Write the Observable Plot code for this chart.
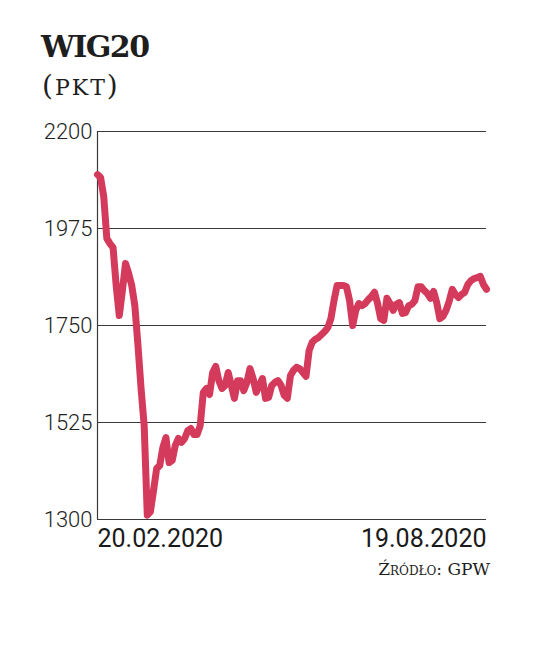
<!DOCTYPE html>
<html>
<head>
<meta charset="utf-8">
<script src="https://cdn.jsdelivr.net/npm/d3@7"></script>
<script src="https://cdn.jsdelivr.net/npm/@observablehq/plot@0.6"></script>
<style>
  html, body { margin: 0; padding: 0; background: #fff; width: 536px; height: 657px; overflow: hidden; }
  #title { position: absolute; left: 41px; top: 32px; font-family: "DejaVu Serif"; font-weight: bold; font-size: 30px; line-height: 30px; color: #1e1e1e; letter-spacing: -1.5px; }
  #subtitle { position: absolute; left: 42px; top: 72px; font-family: "DejaVu Serif"; font-size: 28px; line-height: 27px; color: #1e1e1e; }
  #subtitle .sc { font-size: 22px; letter-spacing: 2px; margin-left: 2px; }
  #chart { position: absolute; left: 0; top: 115px; }
  #caption { position: absolute; right: 46px; top: 561px; font-family: "DejaVu Serif"; font-size: 17px; line-height: 16px; font-variant: small-caps; color: #1e1e1e; }
</style>
</head>
<body>
<div id="title">WIG20</div>
<div id="subtitle">(<span class="sc">PKT</span>)</div>
<div id="chart"></div>
<div id="caption">Źródło: GPW</div>
<script>
// WIG20 daily closing values, 20.02.2020 – 19.08.2020
const values = [
  2100, 2093, 2049, 1952, 1940, 1931, 1843, 1773, 1831, 1894,
  1871, 1843, 1796, 1704, 1604, 1518, 1310, 1318, 1367, 1418,
  1425, 1467, 1490, 1432, 1437, 1472, 1488, 1479, 1488, 1506,
  1511, 1497, 1497, 1518, 1595, 1604, 1590, 1641, 1655, 1622,
  1604, 1611, 1641, 1611, 1581, 1622, 1622, 1599, 1618, 1650,
  1627, 1595, 1611, 1627, 1581, 1583, 1611, 1618, 1622, 1611,
  1588, 1581, 1634, 1646, 1653, 1650, 1641, 1632, 1692, 1711,
  1718, 1722, 1729, 1736, 1745, 1766, 1808, 1843, 1843, 1843,
  1840, 1808, 1750, 1785, 1801, 1796, 1801, 1810, 1817, 1827,
  1801, 1766, 1762, 1813, 1801, 1785, 1799, 1803, 1778, 1780,
  1796, 1799, 1808, 1840, 1840, 1831, 1824, 1813, 1829, 1803,
  1766, 1771, 1785, 1806, 1834, 1822, 1815, 1822, 1827, 1845,
  1854, 1859, 1861, 1864, 1845, 1834
];
const yTicks = [1300, 1525, 1750, 1975, 2200];
const dateLabels = ["20.02.2020", "19.08.2020"];

const data = values.map((v, i) => ({i, v}));
const lastIndex = values.length - 1;

const chart = Plot.plot({
  width: 536,
  height: 444,
  marginLeft: 97,
  marginRight: 50,
  marginTop: 16,
  marginBottom: 40,
  style: { fontFamily: "Roboto", background: "transparent", color: "#222" },
  x: { domain: [0, lastIndex], axis: null },
  y: { domain: [1300, 2200], axis: null },
  marks: [
    Plot.ruleY(yTicks, { stroke: "#3a3a3a", strokeWidth: 1.2 }),
    Plot.ruleX([0], { stroke: "#3a3a3a", strokeWidth: 1.2 }),
    Plot.axisY({ ticks: yTicks, tickSize: 0, tickPadding: 5, label: null, fontSize: 22, fontWeight: 300, tickFormat: d => String(d) }),
    Plot.line(data, { x: "i", y: "v", stroke: "#d43a5b", strokeWidth: 7, strokeLinejoin: "round", strokeLinecap: "round" }),
    Plot.text([dateLabels[0]], { x: 0, y: 1300, text: d => d, textAnchor: "start", dy: 19, fontSize: 25, fontWeight: 400, fill: "#1a1a1a" }),
    Plot.text([dateLabels[1]], { x: lastIndex, y: 1300, text: d => d, textAnchor: "end", dy: 19, fontSize: 25, fontWeight: 400, fill: "#1a1a1a" })
  ]
});
document.getElementById("chart").appendChild(chart);
</script>
</body>
</html>
